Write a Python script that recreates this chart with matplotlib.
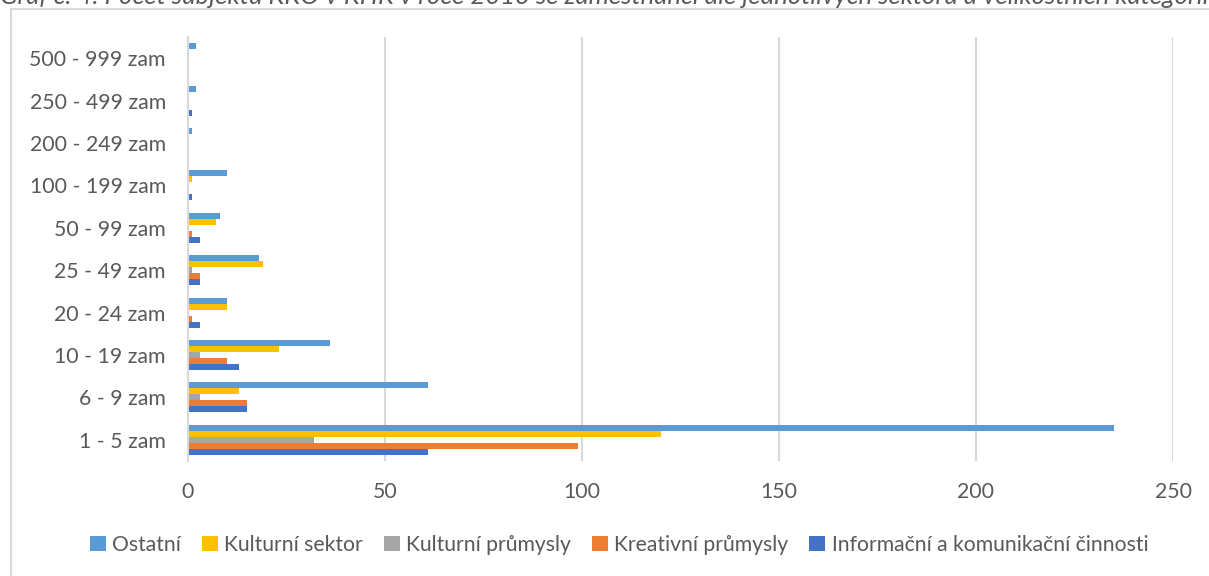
import numpy as np
import matplotlib
matplotlib.use("Agg")
import matplotlib.pyplot as plt
from matplotlib.patches import Rectangle

plt.rcParams['font.family'] = ['Lato', 'DejaVu Sans']

# Kategorie podle počtu zaměstnanců (zdola nahoru)
categories = ['1 - 5 zam', '6 - 9 zam', '10 - 19 zam', '20 - 24 zam', '25 - 49 zam',
              '50 - 99 zam', '100 - 199 zam', '200 - 249 zam', '250 - 499 zam', '500 - 999 zam']

# Hodnoty jednotlivých sektorů
informacni = [61, 15, 13, 3, 3, 3, 1, 0, 1, 0]
kreativni = [99, 15, 10, 1, 3, 1, 0, 0, 0, 0]
kult_prumysly = [32, 3, 3, 0, 1, 0, 0, 0, 0, 0]
kult_sektor = [120, 13, 23, 10, 19, 7, 1, 0, 0, 0]
ostatni = [235, 61, 36, 10, 18, 8, 10, 1, 2, 2]

series = [
    ('Informační a komunikační činnosti', informacni, '#4472C4'),
    ('Kreativní průmysly', kreativni, '#ED7D31'),
    ('Kulturní průmysly', kult_prumysly, '#A5A5A5'),
    ('Kulturní sektor', kult_sektor, '#FFC000'),
    ('Ostatní', ostatni, '#5B9BD5'),
]

fig = plt.figure(figsize=(12.09, 5.76), dpi=100)

# rámeček grafu (jako v Excelu)
fig.patches.append(Rectangle((11 / 1209, -0.1), 1.2, 1 - 9 / 576 + 0.1,
                             transform=fig.transFigure, fill=False,
                             edgecolor='#D9D9D9', linewidth=1.5))

# titulek nahoře - v předloze je z větší části oříznutý
fig.text(0.0, 1 - 4 / 576,
         'Graf č. 4: Počet subjektů KKO v KHK v roce 2013 se zaměstnanci dle '
         'jednotlivých sektorů a velikostních kategorií',
         fontsize=18.5, style='italic', color='#595959', va='baseline', ha='left')

ax = fig.add_axes([188 / 1209, 1 - 461 / 576, (1173 - 188) / 1209, (461 - 37) / 576])

y = np.arange(len(categories))
h = 0.142
handles = []
for i, (name, vals, col) in enumerate(series):
    b = ax.barh(y + (i - 2) * h, vals, height=h, color=col, label=name)
    handles.append(b)

ax.set_xlim(0, 250)
ax.set_ylim(-0.5, len(categories) - 0.5)
ax.set_xticks(range(0, 251, 50))
ax.set_yticks(y)
ax.set_yticklabels(categories)
ax.grid(axis='x', color='#D9D9D9', linewidth=1.5)
ax.set_axisbelow(True)
for s in ['top', 'right', 'bottom']:
    ax.spines[s].set_visible(False)
ax.spines['left'].set_color('#D9D9D9')
ax.spines['left'].set_linewidth(1.5)
ax.tick_params(axis='both', length=0, labelsize=15.3, labelcolor='#595959')
ax.tick_params(axis='x', pad=15)
ax.tick_params(axis='y', pad=16)

leg = fig.legend(handles[::-1], [s[0] for s in series][::-1], loc='center',
                 bbox_to_anchor=(619 / 1209, 1 - 545 / 576), ncol=5, frameon=False,
                 fontsize=15.2, handlelength=0.75, handleheight=0.75,
                 handletextpad=0.3, columnspacing=1.0)
for t in leg.get_texts():
    t.set_color('#595959')

fig.savefig('out.png', dpi=100)
